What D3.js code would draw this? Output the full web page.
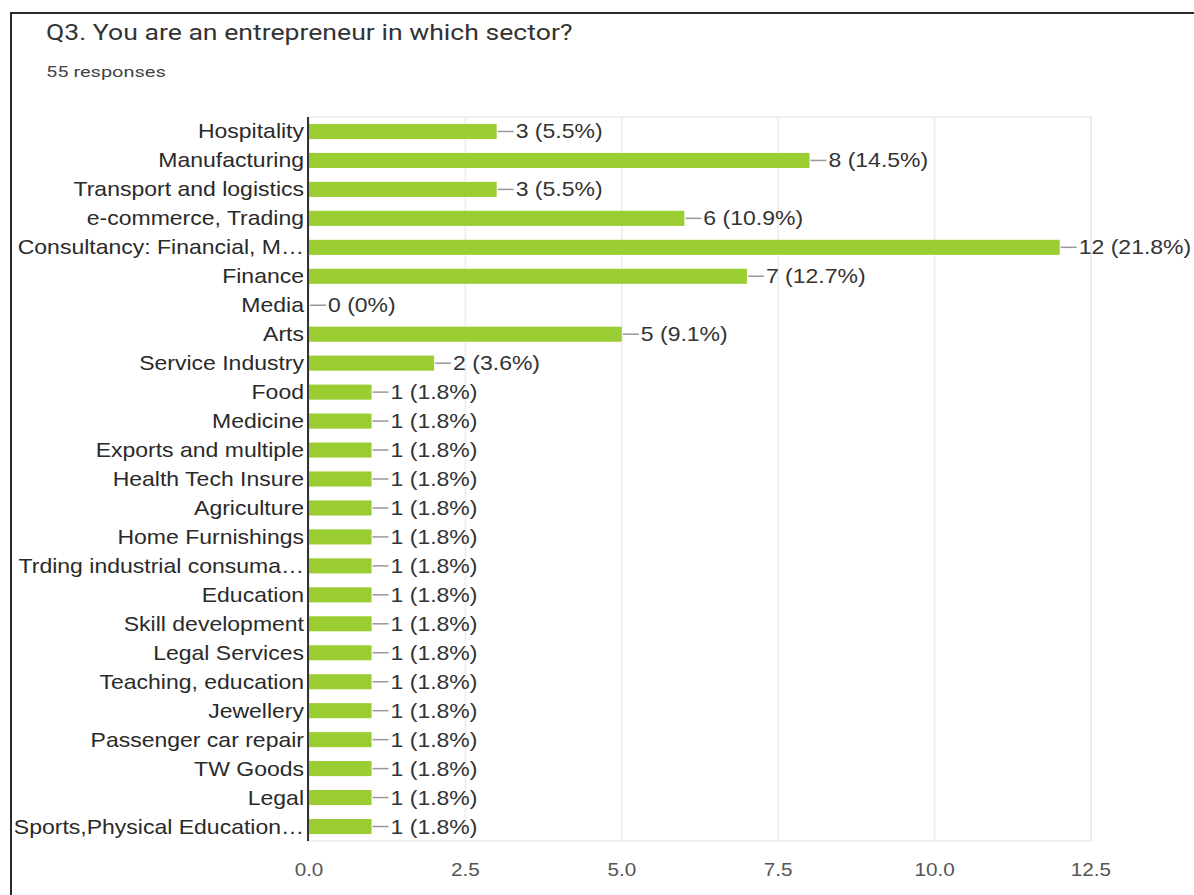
<!DOCTYPE html>
<html>
<head>
<meta charset="utf-8">
<script src="https://cdn.jsdelivr.net/npm/d3@7"></script>
<style>
  html, body { margin: 0; padding: 0; background: #fff; }
  svg { display: block; }
</style>
</head>
<body>
<svg id="chart" width="1194" height="895"></svg>
<script>
// Survey answers: sector of each entrepreneur
const categories = [
  "Hospitality", "Manufacturing", "Transport and logistics", "e-commerce, Trading",
  "Consultancy: Financial, M\u2026", "Finance", "Media", "Arts", "Service Industry",
  "Food", "Medicine", "Exports and multiple", "Health Tech Insure", "Agriculture",
  "Home Furnishings", "Trding industrial consuma\u2026", "Education", "Skill development",
  "Legal Services", "Teaching, education", "Jewellery", "Passenger car repair",
  "TW Goods", "Legal", "Sports,Physical Education\u2026"
];
const counts = [3, 8, 3, 6, 12, 7, 0, 5, 2, 1, 1, 1, 1, 1, 1, 1, 1, 1, 1, 1, 1, 1, 1, 1, 1];
const percents = ["5.5%", "14.5%", "5.5%", "10.9%", "21.8%", "12.7%", "0%", "9.1%", "3.6%",
  "1.8%", "1.8%", "1.8%", "1.8%", "1.8%", "1.8%", "1.8%", "1.8%", "1.8%", "1.8%", "1.8%",
  "1.8%", "1.8%", "1.8%", "1.8%", "1.8%"];
const xTicks = [0, 2.5, 5, 7.5, 10, 12.5];
const title = "Q3. You are an entrepreneur in which sector?";
const subtitle = "55 responses";

const svg = d3.select("#chart");
const W = 1194, H = 895;
const plot = { left: 309, right: 1091, top: 117, bottom: 841 };
const SX = 1.15; // horizontal text stretch

const x = d3.scaleLinear().domain([0, 12.5]).range([plot.left, plot.right]);
const y = d3.scaleBand().domain(categories).range([plot.top, plot.bottom]).paddingInner(0.48).paddingOuter(0.24);

// text helper with a horizontal stretch around its anchor point
function stretchedText(sel, px, py) {
  return sel.attr("transform", (d, i) => `translate(${px(d, i)},${py(d, i)}) scale(${SX},1)`);
}

// frame lines
svg.append("line").attr("x1", 10).attr("x2", W).attr("y1", 13).attr("y2", 13)
  .attr("stroke", "#2a2a2a").attr("stroke-width", 2);
svg.append("line").attr("x1", 11).attr("x2", 11).attr("y1", 12).attr("y2", H)
  .attr("stroke", "#2a2a2a").attr("stroke-width", 2);

// title block
svg.append("text").text(title)
  .attr("transform", "translate(46,40) scale(1.21,1)")
  .attr("font-family", "Roboto, sans-serif").attr("font-size", 22)
  .attr("fill", "#333");
svg.append("text").text(subtitle)
  .attr("transform", "translate(46,77) scale(1.29,1)")
  .attr("font-family", "Roboto, sans-serif").attr("font-size", 15.5)
  .attr("fill", "#444");

// plot box and vertical gridlines
const g = svg.append("g");
g.append("rect").attr("x", plot.left).attr("y", plot.top)
  .attr("width", plot.right - plot.left).attr("height", plot.bottom - plot.top)
  .attr("fill", "none").attr("stroke", "#ebebeb").attr("stroke-width", 1.5);
g.selectAll("line.grid").data(xTicks.slice(1)).join("line").attr("class", "grid")
  .attr("x1", d => x(d)).attr("x2", d => x(d))
  .attr("y1", plot.top).attr("y2", plot.bottom)
  .attr("stroke", "#ebebeb").attr("stroke-width", 1.5);

// bars
g.selectAll("rect.bar").data(categories).join("rect").attr("class", "bar")
  .attr("x", x(0))
  .attr("y", d => y(d))
  .attr("width", (d, i) => x(counts[i]) - x(0))
  .attr("height", y.bandwidth())
  .attr("fill", "#9acd32");

// leader lines and value labels
g.selectAll("line.lead").data(categories).join("line").attr("class", "lead")
  .attr("x1", (d, i) => x(counts[i]) + 1)
  .attr("x2", (d, i) => x(counts[i]) + 17)
  .attr("y1", d => y(d) + y.bandwidth() / 2)
  .attr("y2", d => y(d) + y.bandwidth() / 2)
  .attr("stroke", "#999").attr("stroke-width", 1.5);
stretchedText(
  g.selectAll("text.val").data(categories).join("text").attr("class", "val")
    .text((d, i) => `${counts[i]} (${percents[i]})`),
  (d, i) => x(counts[i]) + 19,
  d => y(d) + y.bandwidth() / 2 + 7
).attr("font-family", "'Liberation Sans', Arial, sans-serif").attr("font-size", 20).attr("fill", "#333");

// category labels
stretchedText(
  g.selectAll("text.cat").data(categories).join("text").attr("class", "cat").text(d => d),
  () => 304,
  d => y(d) + y.bandwidth() / 2 + 7
).attr("text-anchor", "end")
  .attr("font-family", "'Liberation Sans', Arial, sans-serif").attr("font-size", 20).attr("fill", "#2a2a2a");

// value axis tick labels
stretchedText(
  g.selectAll("text.tick").data(xTicks).join("text").attr("class", "tick")
    .text(d => d3.format(".1f")(d)),
  d => x(d),
  () => 876
).attr("text-anchor", "middle")
  .attr("font-family", "'Liberation Sans', Arial, sans-serif").attr("font-size", 18).attr("fill", "#555");

// category axis line
g.append("line").attr("x1", plot.left - 1).attr("x2", plot.left - 1)
  .attr("y1", plot.top).attr("y2", plot.bottom)
  .attr("stroke", "#333").attr("stroke-width", 2);
</script>
</body>
</html>
